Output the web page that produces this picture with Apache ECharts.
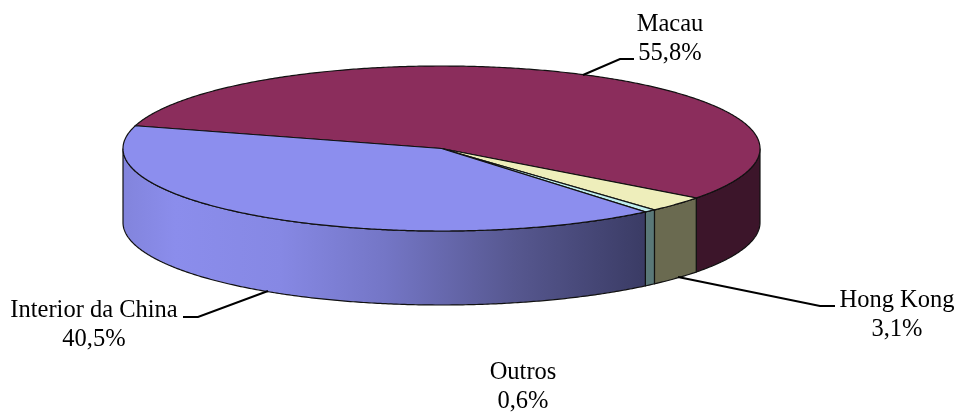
<!DOCTYPE html>
<html>
<head>
<meta charset="utf-8">
<style>
  html, body { margin: 0; padding: 0; background: #fff; }
  #chart { width: 958px; height: 412px; }
</style>
<script src="https://cdn.jsdelivr.net/npm/echarts@6/dist/echarts.min.js"></script>
</head>
<body>
<div id="chart"></div>
<script>
// clockwise from the Macau / Interior boundary
var categories = ['Macau', 'Hong Kong', 'Outros', 'Interior da China'];
var shares = [55.8, 3.1, 0.6, 40.5];
var shareLabels = ['55,8%', '3,1%', '0,6%', '40,5%'];

var topColors = ['#8b2d5c', '#eeeebb', '#bfeeee', '#8c8eee'];
var wallColors = ['#3c152a', '#6a6a50', '#5a7878', null];

// pie geometry, pixels
var cx = 441.5, cy = 148.5, rx = 318.5, ry = 82.5, depth = 74;
var startAngle = 196;

// label blocks: centre of the text, and the leader line going to the pie
var labelPos = [[670, 24], [897, 300], [523, 372], [94, 310]];
var leaders = [
  [[583, 75], [620, 59], [634, 59]],
  [[678, 277], [820, 306], [835, 306]],
  null,
  [[268, 291], [198, 317], [183, 317]]
];

var interiorWall = new echarts.graphic.LinearGradient(123, 0, 647, 0, [
  { offset: 0, color: '#8284dc' },
  { offset: 0.1, color: '#8b8dec' },
  { offset: 0.3, color: '#8688e4' },
  { offset: 0.5, color: '#7476c6' },
  { offset: 0.75, color: '#56578f' },
  { offset: 1, color: '#3a3b64' }
], true);

// start / end angle of a slice, in degrees
function sliceAngles(idx) {
  var before = 0;
  for (var i = 0; i < idx; i++) before += shares[i];
  return [startAngle + before * 3.6, startAngle + (before + shares[idx]) * 3.6];
}

function arc(from, to, dy) {
  var pts = [];
  var steps = Math.max(2, Math.ceil(Math.abs(to - from) * 2));
  for (var i = 0; i <= steps; i++) {
    var a = (from + (to - from) * i / steps) * Math.PI / 180;
    pts.push([cx + rx * Math.cos(a), cy + ry * Math.sin(a) + dy]);
  }
  return pts;
}

function renderWall(params, api) {
  var idx = params.dataIndex;
  var ang = sliceAngles(idx);
  var from = ang[0], to = ang[1];
  // only the front half of the rim is seen
  if (from >= 360) { from -= 360; to -= 360; }
  if (to > 360) { from = 0; to -= 360; }
  from = Math.max(from, 0);
  to = Math.min(to, 180);
  if (to <= from) return null;
  var pts = arc(from, to, 0).concat(arc(to, from, depth));
  return {
    type: 'polygon',
    shape: { points: pts },
    style: { fill: wallColors[idx] || interiorWall, stroke: '#111', lineWidth: 1.2 }
  };
}

function renderTop(params, api) {
  var idx = params.dataIndex;
  var ang = sliceAngles(idx);
  return {
    type: 'polygon',
    shape: { points: [[cx, cy]].concat(arc(ang[0], ang[1], 0)) },
    style: { fill: topColors[idx], stroke: '#111', lineWidth: 1.2 }
  };
}

var graphics = [];
categories.forEach(function (name, i) {
  graphics.push({
    type: 'text',
    silent: true,
    style: {
      x: labelPos[i][0], y: labelPos[i][1],
      text: name + '\n' + shareLabels[i],
      fill: '#000',
      font: '24.5px "Liberation Serif"',
      lineHeight: 29,
      align: 'center',
      verticalAlign: 'top'
    },
    y: -14
  });
  if (leaders[i]) {
    graphics.push({
      type: 'polyline',
      silent: true,
      z: 10,
      shape: { points: leaders[i] },
      style: { stroke: '#000', lineWidth: 2, fill: null }
    });
  }
});

var chart = echarts.init(document.getElementById('chart'), null, { renderer: 'canvas' });
chart.setOption({
  animation: false,
  backgroundColor: '#fff',
  tooltip: { show: false },
  graphic: graphics,
  series: [
    { type: 'custom', coordinateSystem: 'none', silent: true, renderItem: renderWall, data: shares, z: 1 },
    { type: 'custom', coordinateSystem: 'none', silent: true, renderItem: renderTop, data: shares, z: 2 }
  ]
});
</script>
</body>
</html>
